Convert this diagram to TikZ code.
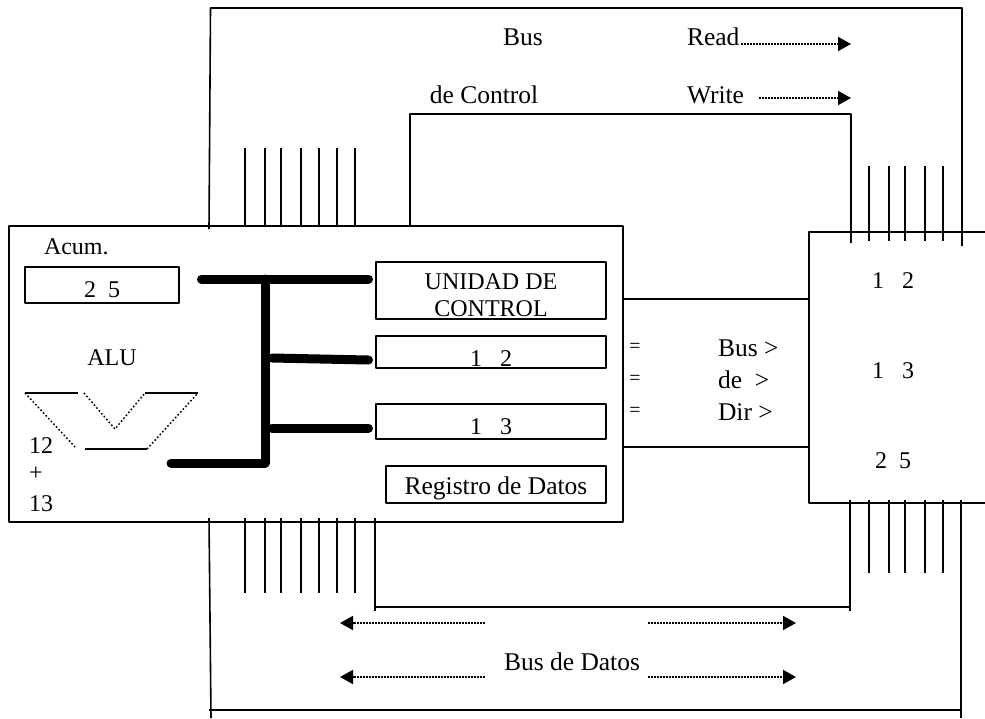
\documentclass[tikz,border=0pt]{standalone}
\usepackage{fontspec}
\setmainfont{Liberation Serif}
\usetikzlibrary{arrows.meta,positioning}

\begin{document}
\begin{tikzpicture}[
  x=1pt, y=-1pt,
  font=\fontsize{25.5}{29}\selectfont,
  line width=1.6pt,
  line join=round,
  node distance=18pt,
  chip/.style={draw, minimum width=#1, inner sep=0pt, outer sep=0pt, anchor=north west},
  reg/.style={draw, fill=white, inner sep=0pt, outer sep=0pt, minimum width=230pt, align=center},
  label/.style={inner sep=0pt, outer sep=0pt},
  small/.style={font=\fontsize{24}{28}\selectfont},
  eqmark/.style={label, font=\fontsize{20}{24}\selectfont},
  busline/.style={line width=9pt, line cap=round},
  pin/.style={line width=1.5pt},
  flow/.style={dash pattern=on 2pt off 1pt, line width=1.8pt, -{Triangle[length=13pt, width=14pt, sep=0pt]}},
  gate/.style={line width=1.5pt},
  gatedot/.style={line width=1.5pt, dash pattern=on 1.6pt off 2.2pt}
]
\useasboundingbox (0,0) rectangle (985,718);

% cpu, memory and address bus outlines
\node[chip=614pt, minimum height=296pt] (cpu) at (9,226) {};
\coordinate (memtl) at (809,232);
\coordinate (memtr) at (985,232);
\coordinate (membl) at (809,503);
\coordinate (membr) at (985,503);
\draw (memtr) -- (memtl) -- (membl) -- (membr);
\draw (cpu.east |- 0,299) -- (memtl |- 0,299);
\draw (cpu.east |- 0,447) -- (memtl |- 0,447);
\draw[line width=2.2pt] (cpu.south west) ++(0,-0.3) -- ++(84,0);

% pins
\foreach \x in {245,265,281,301,319,337,355} {
  \draw[pin] (\x,148) -- (\x,0 |- cpu.north);
  \draw[pin] (\x,518) -- (\x,593);
}
\foreach \x in {869,889,905,925,943} {
  \draw[pin] (\x,166) -- (\x,241);
}
\foreach \x in {869,889,905,925,943} {
  \draw[pin] (\x,500) -- (\x,573);
}

% control bus
\coordinate (ctla) at (210.5,8);
\coordinate (ctlb) at (962,8);
\coordinate (ctlc) at (410,114);
\coordinate (ctld) at (851,114);
\draw (209,229) -- (ctla) -- (ctlb) -- (962,246);
\draw (ctlc |- cpu.north) -- (ctlc) -- (ctld) -- (851,243);

% data bus
\coordinate (dataa) at (375,607);
\coordinate (datab) at (850,607);
\coordinate (datac) at (209,710);
\coordinate (datad) at (961,710);
\draw (375,518) -- (375,611);
\draw (850,500) -- (850,611);
\draw (dataa) -- (datab);
\draw (209,518) -- (211,718);
\draw (961,500) -- (961,718);
\draw (datac) -- (datad);

% registers
\draw[busline] (201.5,279) -- (368.5,279);
\draw[busline] (265,279) -- (265,463) -- (171,463);
\draw[busline] (272,358) -- (368.5,360);
\draw[busline] (272,428) -- (368.5,428);

\node[chip=154pt, minimum height=36pt, small, text height=24pt, text depth=0pt] (acum) at (25,267) {2~~5};
\node[label, small, above=12pt of acum.north west, anchor=south west, xshift=19pt] (acumtext) {Acum.};
\node[reg, small, minimum height=57pt, anchor=north west] (uc) at (376,262) {\rule{0pt}{25pt}UNIDAD DE\\[-1pt]CONTROL};
\node[reg, small, minimum height=32pt, text height=28pt, text depth=0pt, below=17pt of uc] (rdir) {1~~~2};
\node[reg, small, minimum height=35pt, text height=26pt, text depth=0pt, below=36pt of rdir] (raux) {1~~~3};
\node[reg, minimum height=37pt, minimum width=220pt, text height=24pt, text depth=5pt, below=27pt of raux.south east, anchor=north east] (rdat) {Registro de Datos};

% alu
\node[label, small] (alutext) at (112,358) {ALU};
\coordinate (alua) at (25,393);
\coordinate (alub) at (78,393);
\coordinate (aluc) at (84,393);
\coordinate (alud) at (115,429);
\coordinate (alue) at (145,393);
\coordinate (aluf) at (198,393);
\coordinate (alug) at (85,449);
\coordinate (aluh) at (147,449);
\draw[gate] (alua) -- (alub);
\draw[gate] (alue) -- (aluf);
\draw[gate] (alug) -- (aluh);
\draw[gatedot] (alua) -- (76,448);
\draw[gatedot] (aluc) -- (alud) -- (alue);
\draw[gatedot] (aluh) -- (aluf);
\node[label, small] (opa) at (41,446) {12};
\node[label, small] (opplus) at (36,474) {+};
\node[label, small] (opb) at (41,504) {13};

% address bus text
\node[eqmark] (eqa) at (635,348) {=};
\node[eqmark] (eqb) at (635,380) {=};
\node[eqmark] (eqc) at (635,412) {=};
\node[label, anchor=west] (adra) at (718,348) {Bus >};
\node[label, anchor=west] (adrb) at (718,380) {de ~>};
\node[label, anchor=west] (adrc) at (718,412) {Dir >};

% memory cells
\node[label, small] (cella) at (893,281) {1~~~2};
\node[label, small] (cellb) at (893,371) {1~~~3};
\node[label, small] (cellc) at (893,461) {2~~5};

% control bus text and arrows
\node[label] (bustext) at (523,37) {Bus};
\node[label] (ctltext) at (484,95) {de Control};
\node[label, anchor=west] (readtext) at (687,37) {Read};
\node[label, anchor=west] (writetext) at (687,95) {Write};
\coordinate (readend) at (851,44);
\coordinate (writeend) at (851,98);
\draw[flow] (741,44) -- (readend);
\draw[flow] (759,98) -- (writeend);

% data bus text and arrows
\node[label] (datatext) at (572,662) {Bus de Datos};
\coordinate (dla) at (340,623);
\coordinate (dlb) at (340,677);
\coordinate (dra) at (796,623);
\coordinate (drb) at (796,677);
\draw[flow] (485,623) -- (dla);
\draw[flow] (485,677) -- (dlb);
\draw[flow] (648,623) -- (dra);
\draw[flow] (648,677) -- (drb);
\end{tikzpicture}
\end{document}
